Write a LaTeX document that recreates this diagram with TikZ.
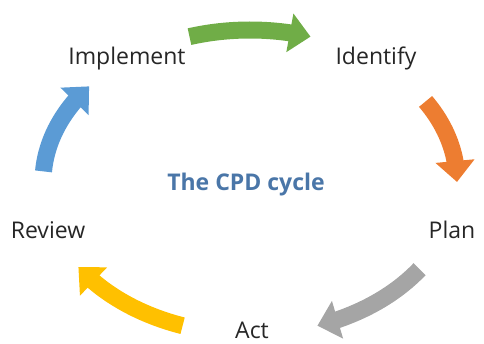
\documentclass[tikz,border=0pt]{standalone}
\usepackage{fontspec}
\setmainfont{Open Sans}
\usetikzlibrary{arrows.meta,bending}

\definecolor{cpdgreen}{HTML}{70AD47}
\definecolor{cpdorange}{HTML}{ED7D31}
\definecolor{cpdgrey}{HTML}{A5A5A5}
\definecolor{cpdyellow}{HTML}{FFC000}
\definecolor{cpdblue}{HTML}{5B9BD5}
\definecolor{cpdtitle}{HTML}{4A76A8}

\begin{document}
\begin{tikzpicture}[x=1pt,y=1pt,
  stage/.style={font=\fontsize{23}{28}\selectfont, text=black!85, inner sep=0pt, anchor=base},
  cyclearrow/.style={draw=#1, line width=17pt, -{Triangle[width=38pt,length=21pt]}}]
\useasboundingbox (0,0) rectangle (484,343);
\coordinate (centre) at (250,161);
\node[stage] (implement) at (127,278) {Implement};
\node[stage] (identify) at (376,278) {Identify};
\node[stage] (plan) at (452,105) {Plan};
\node[stage] (act) at (252,5) {Act};
\node[stage] (review) at (48,105) {Review};
\node[font=\fontsize{23}{28}\selectfont\bfseries, text=cpdtitle, inner sep=0pt] (title) at (246,158) {The CPD cycle};
\draw[cyclearrow=cpdgreen] (centre) ++(107:207pt and 152pt) arc[start angle=107, end angle=73, x radius=207pt, y radius=152pt];
\draw[cyclearrow=cpdorange] (centre) ++(32:207pt and 152pt) arc[start angle=32, end angle=0, x radius=207pt, y radius=152pt];
\draw[cyclearrow=cpdgrey] (centre) ++(-35:207pt and 152pt) arc[start angle=-35, end angle=-71, x radius=207pt, y radius=152pt];
\draw[cyclearrow=cpdyellow] (centre) ++(-109:207pt and 152pt) arc[start angle=-109, end angle=-146, x radius=207pt, y radius=152pt];
\draw[cyclearrow=cpdblue] (centre) ++(176:207pt and 152pt) arc[start angle=176, end angle=141, x radius=207pt, y radius=152pt];
\end{tikzpicture}
\end{document}
